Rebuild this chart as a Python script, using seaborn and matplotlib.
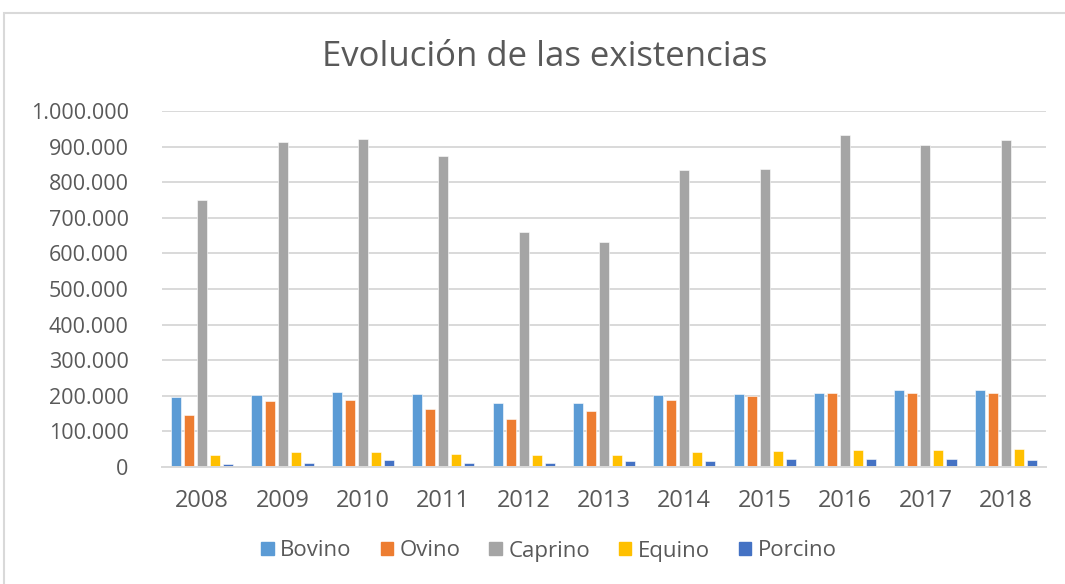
import matplotlib
matplotlib.use("Agg")
import matplotlib.pyplot as plt
import matplotlib.patches as mpatches
from matplotlib.ticker import FuncFormatter
import seaborn as sns
import pandas as pd

years = ["2008", "2009", "2010", "2011", "2012", "2013", "2014", "2015", "2016", "2017", "2018"]
species = ["Bovino", "Ovino", "Caprino", "Equino", "Porcino"]

bovino = [198000, 202000, 212000, 205000, 181000, 181000, 202000, 205000, 209000, 216000, 216000]
ovino = [145000, 184000, 188000, 163000, 134000, 156000, 188000, 199000, 209000, 209000, 209000]
caprino = [751000, 914000, 922000, 875000, 660000, 631000, 835000, 838000, 933000, 904000, 918000]
equino = [33000, 41000, 41000, 37000, 33000, 33000, 41000, 45000, 49000, 49000, 51000]
porcino = [8000, 12000, 20000, 12000, 12000, 16000, 16000, 23000, 23000, 23000, 20000]

colors = ["#5B9BD5", "#ED7D31", "#A5A5A5", "#FFC000", "#4472C4"]

rows = []
for name, vals in zip(species, [bovino, ovino, caprino, equino, porcino]):
    for y, v in zip(years, vals):
        rows.append({"Año": y, "Especie": name, "Existencias": v})
df = pd.DataFrame(rows)

sns.set_style("white")
plt.rcParams['font.family'] = ['Open Sans', 'DejaVu Sans']
text_col = "#595959"

fig = plt.figure(figsize=(10.65, 5.84), dpi=100)
ax = fig.add_axes([162 / 1065, 1 - 467 / 584, (1046 - 162) / 1065, (467 - 111) / 584])

sns.barplot(data=df, x="Año", y="Existencias", hue="Especie", order=years,
            hue_order=species, palette=colors, saturation=1, width=0.81, gap=0.23,
            edgecolor="white", linewidth=0.4, legend=False, ax=ax)

ax.set_ylim(0, 1000000)
ax.set_yticks(range(0, 1000001, 100000))
ax.yaxis.set_major_formatter(FuncFormatter(lambda v, p: f"{int(v):,}".replace(",", ".")))
ax.grid(axis="y", color="#D9D9D9", linewidth=1.4)
ax.set_axisbelow(True)
for s in ["top", "right", "left"]:
    ax.spines[s].set_visible(False)
ax.spines["bottom"].set_color("#D9D9D9")
ax.spines["bottom"].set_linewidth(1.4)
ax.tick_params(axis="both", length=0, labelcolor=text_col)
ax.tick_params(axis="y", pad=24, labelsize=15.5)
ax.tick_params(axis="x", pad=16, labelsize=17)
ax.set_xlabel("")
ax.set_ylabel("")

fig.text(545 / 1065, 1 - 57 / 584, "Evolución de las existencias", ha="center", va="center",
         fontsize=25, color=text_col)

handles = [mpatches.Patch(color=c, label=s) for c, s in zip(colors, species)]
fig.legend(handles=handles, loc="center", bbox_to_anchor=(549 / 1065, 1 - 551 / 584), ncol=5,
           frameon=False, fontsize=16, labelcolor=text_col, handlelength=0.55, handleheight=0.55,
           handletextpad=0.3, columnspacing=1.3)

# chart frame
fig.patches.append(mpatches.Rectangle((4 / 1065, -0.05), 1.1, 1 - 13 / 584 + 0.05,
                                      transform=fig.transFigure, fill=False,
                                      edgecolor="#D9D9D9", linewidth=1.5))

fig.savefig("out.png", dpi=100)
